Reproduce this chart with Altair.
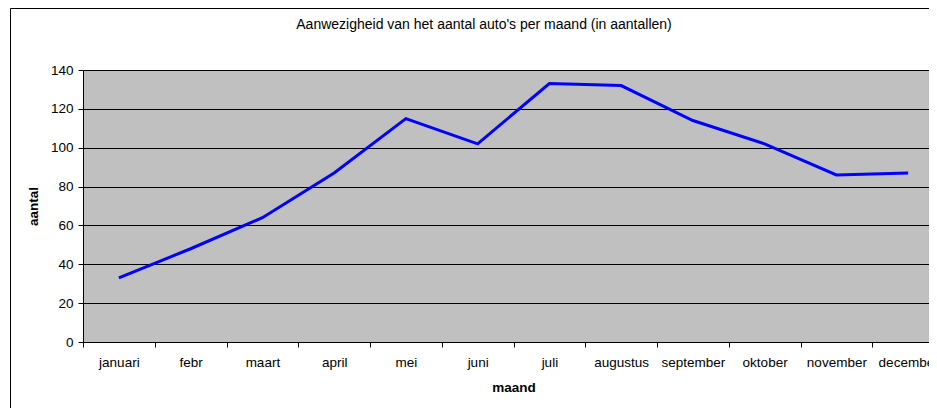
import altair as alt
import pandas as pd

maanden = ["januari", "febr", "maart", "april", "mei", "juni", "juli",
           "augustus", "september", "oktober", "november", "december"]
aantallen = [33, 48, 64, 87, 115, 102, 133, 132, 114, 102, 86, 87]
y_ticks = [0, 20, 40, 60, 80, 100, 120, 140]

df = pd.DataFrame({"maand": maanden, "aantal": aantallen})

FONT = "Liberation Sans"
W, H = 846, 272

line = alt.Chart(df).mark_line(color="#0000FF", strokeWidth=3).encode(
    x=alt.X("maand:N", sort=maanden, bandPosition=0.5,
            scale=alt.Scale(type="band", paddingInner=0, paddingOuter=0, range=[0, 861]),
            axis=alt.Axis(title="maand", labelAngle=0, tickBand="extent",
                          tickSize=5, labelPadding=8, labelOverlap=False,
                          labelBound=False, labelFlush=False,
                          titlePadding=12, grid=False)),
    y=alt.Y("aantal:Q", scale=alt.Scale(domain=[0, 140], nice=False),
            axis=alt.Axis(title="aantal", values=y_ticks, tickSize=5,
                          labelPadding=5, titlePadding=10, grid=True)),
)

border = alt.Chart(pd.DataFrame({"k": [0]})).mark_rect(
    fill=None, stroke="#000000", strokeWidth=1, clip=False
).encode(
    x=alt.value(-72.5), x2=alt.value(1000),
    y=alt.value(-61.5), y2=alt.value(600),
)

chart = alt.layer(border, line).properties(
    width=W, height=H,
    title=alt.TitleParams(
        "Aanwezigheid van het aantal auto's per maand (in aantallen)",
        font=FONT, fontSize=14, fontWeight="normal", color="#000000",
        anchor="middle", frame="group", dx=-22, dy=24, offset=0,
    ),
    autosize=alt.AutoSizeParams(type="none"),
    padding={"left": 75, "top": 62, "right": 0, "bottom": 66},
).configure(
    background="#FFFFFF",
).configure_view(
    fill="#C0C0C0", stroke="#808080", strokeWidth=1,
).configure_axis(
    labelFont=FONT, labelFontSize=13.5, labelColor="#000000",
    titleFont=FONT, titleFontSize=13.5, titleFontWeight="bold", titleColor="#000000",
    domainColor="#000000", tickColor="#000000", gridColor="#000000",
    gridOpacity=1, domainWidth=1, tickWidth=1, gridWidth=1,
)

chart.save("out.html", embed_options={"renderer": "svg", "actions": False})
